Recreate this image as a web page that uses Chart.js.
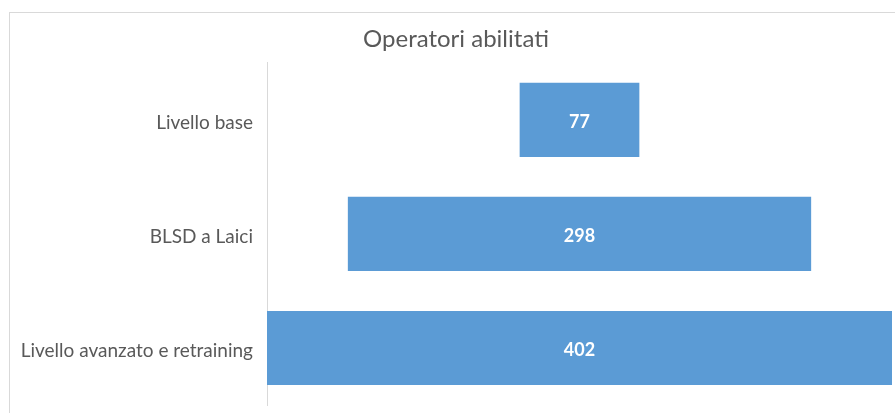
<!DOCTYPE html>
<html>
<head>
<meta charset="utf-8">
<script src="https://cdn.jsdelivr.net/npm/chart.js@4.4.1/dist/chart.umd.min.js"></script>
<style>
html,body{margin:0;padding:0;background:#fff;}
#wrap{width:895px;height:413px;position:relative;}
</style>
</head>
<body>
<div id="wrap"><canvas id="c" width="895" height="413"></canvas></div>
<script>
const categories = ["Livello base", "BLSD a Laici", "Livello avanzato e retraining"];
const values = [77, 298, 402];
const titleText = "Operatori abilitati";

const maxVal = Math.max(...values);
const floating = values.map(v => [-v / 2, v / 2]);

const frame = {
  id: 'frame',
  beforeDraw(chart) {
    const ctx = chart.ctx;
    ctx.save();
    ctx.strokeStyle = '#d9d9d9';
    ctx.lineWidth = 1;
    ctx.strokeRect(9.5, 12.5, 1000, 1000);
    ctx.restore();
  }
};

const barLabels = {
  id: 'barLabels',
  afterDatasetsDraw(chart) {
    const ctx = chart.ctx;
    const meta = chart.getDatasetMeta(0);
    ctx.save();
    ctx.fillStyle = '#ffffff';
    ctx.font = 'bold 18px Lato, "Open Sans", sans-serif';
    ctx.textAlign = 'center';
    ctx.textBaseline = 'middle';
    meta.data.forEach((bar, i) => {
      const cx = (bar.x + bar.base) / 2;
      ctx.fillText(String(values[i]), cx, bar.y + 2);
    });
    ctx.restore();
  }
};

new Chart(document.getElementById('c'), {
  type: 'bar',
  data: {
    labels: categories,
    datasets: [{
      data: floating,
      backgroundColor: '#5b9bd5',
      borderWidth: 0,
      categoryPercentage: 1,
      barPercentage: 0.65
    }]
  },
  options: {
    indexAxis: 'y',
    responsive: false,
    animation: false,
    layout: { padding: { left: 20, right: 3, top: 0, bottom: 8 } },
    plugins: {
      legend: { display: false },
      tooltip: { enabled: false },
      title: {
        display: true,
        text: titleText,
        color: '#595959',
        font: { family: 'Lato, "Open Sans", sans-serif', size: 24, weight: 'normal', lineHeight: 1.2 },
        padding: { top: 25, bottom: 9 }
      }
    },
    scales: {
      x: { display: false, min: -maxVal / 2, max: maxVal / 2 },
      y: {
        grid: { display: false, drawTicks: false },
        border: { display: true, color: '#d9d9d9', width: 1 },
        ticks: {
          color: '#595959',
          padding: 14,
          labelOffset: 3,
          font: { family: 'Lato, "Open Sans", sans-serif', size: 19 }
        },
        afterFit(scale) {
          scale.width = 247;
          scale.paddingTop = 0;
          scale.paddingBottom = 0;
        }
      }
    }
  },
  plugins: [frame, barLabels]
});
</script>
</body>
</html>
